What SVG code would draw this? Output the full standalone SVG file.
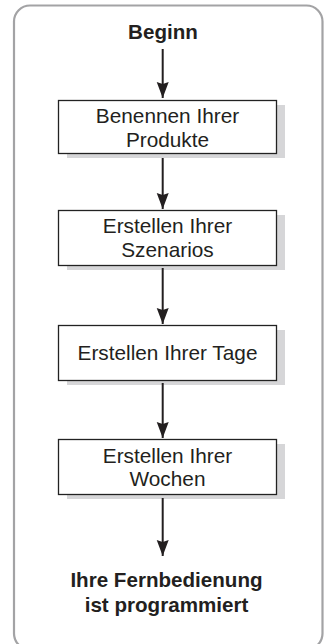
<svg xmlns="http://www.w3.org/2000/svg" width="324" height="644" viewBox="0 0 324 644">
<defs>
<style>
.frame{fill:#fff;stroke:#a3a3a5;stroke-width:2.2}
.box{fill:#fff;stroke:#222;stroke-width:1.3}
.shadow{fill:#d6d6d8}
.t{font-family:"Liberation Sans",Arial,sans-serif;font-size:20.8px;fill:#231f20;text-anchor:middle}
.b{font-weight:bold;font-size:20.6px}
.edge{stroke:#231f20;stroke-width:2;fill:none;marker-end:url(#ah)}
</style>
<marker id="ah" markerUnits="userSpaceOnUse" markerWidth="18" markerHeight="14" refX="16" refY="6" orient="auto">
<path d="M0,0 L16,6 L0,12 L2,6 Z" fill="#231f20"/>
</marker>
</defs>
<rect class="frame" x="14" y="5.5" width="308.5" height="644" rx="16"/>
<g id="start"><text class="t b" x="163" y="39">Beginn</text></g>
<g id="n1">
<rect class="shadow" x="67" y="105" width="218" height="53"/>
<rect class="box" x="58.5" y="100.5" width="218" height="53"/>
<text class="t" x="167.5" y="122.7">Benennen Ihrer</text>
<text class="t" x="167.5" y="146.7">Produkte</text>
</g>
<g id="n2">
<rect class="shadow" x="67" y="215" width="218" height="55"/>
<rect class="box" x="58.5" y="210.5" width="218" height="55"/>
<text class="t" x="167.5" y="233">Erstellen Ihrer</text>
<text class="t" x="167.5" y="257.3">Szenarios</text>
</g>
<g id="n3">
<rect class="shadow" x="67" y="330" width="218" height="55"/>
<rect class="box" x="58.5" y="325.5" width="218" height="55"/>
<text class="t" x="167.5" y="360">Erstellen Ihrer Tage</text>
</g>
<g id="n4">
<rect class="shadow" x="67" y="444" width="218" height="55"/>
<rect class="box" x="58.5" y="439.5" width="218" height="55"/>
<text class="t" x="167.5" y="463.3">Erstellen Ihrer</text>
<text class="t" x="167.5" y="486">Wochen</text>
</g>
<g id="end">
<text class="t b" x="166.5" y="586.7">Ihre Fernbedienung</text>
<text class="t b" x="166.5" y="611.7">ist programmiert</text>
</g>
<g id="connectors">
<line class="edge" x1="162.7" y1="49" x2="162.7" y2="98"/>
<line class="edge" x1="162.7" y1="158" x2="162.7" y2="209"/>
<line class="edge" x1="162.7" y1="268" x2="162.7" y2="324"/>
<line class="edge" x1="162.7" y1="383" x2="162.7" y2="438"/>
<line class="edge" x1="162.7" y1="498" x2="162.7" y2="556"/>
</g>
</svg>
